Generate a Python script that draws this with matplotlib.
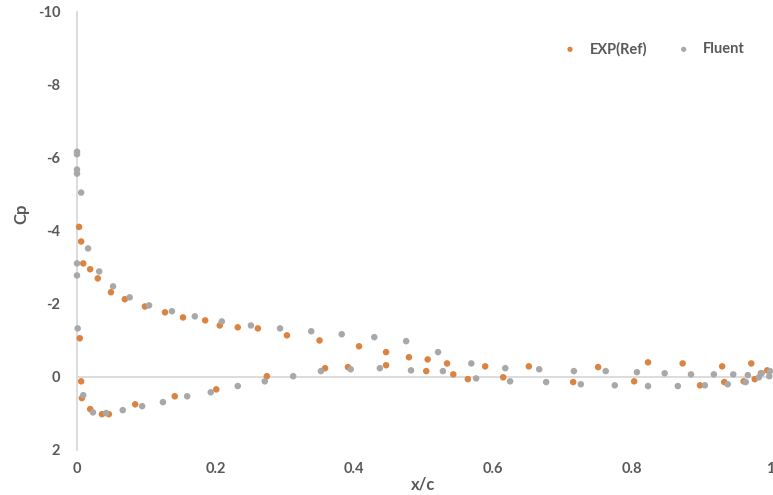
import matplotlib
matplotlib.use("Agg")
import matplotlib.pyplot as plt

plt.rcParams["font.family"] = ["Lato", "DejaVu Sans"]
plt.rcParams["axes.unicode_minus"] = False

# pressure coefficient along the chord, experiment
exp_x = [0.003, 0.006, 0.009, 0.019, 0.030, 0.049, 0.069, 0.098, 0.127, 0.153,
         0.185, 0.206, 0.232, 0.261, 0.303, 0.350, 0.407, 0.446, 0.479, 0.506,
         0.534, 0.589, 0.652, 0.752, 0.824, 0.874, 0.931, 0.973, 0.996,
         0.004, 0.006, 0.007, 0.019, 0.036, 0.046, 0.084, 0.141, 0.201, 0.274,
         0.358, 0.391, 0.446, 0.504, 0.543, 0.564, 0.615, 0.716, 0.804, 0.899,
         0.934, 0.962, 0.978, 0.987]
exp_cp = [-4.11, -3.71, -3.11, -2.95, -2.70, -2.32, -2.13, -1.93, -1.77, -1.63,
          -1.55, -1.41, -1.36, -1.33, -1.14, -1.00, -0.84, -0.68, -0.54, -0.48,
          -0.37, -0.29, -0.29, -0.27, -0.40, -0.37, -0.29, -0.37, -0.18,
          -1.06, 0.12, 0.58, 0.88, 1.02, 1.02, 0.75, 0.53, 0.34, -0.02,
          -0.24, -0.27, -0.32, -0.16, -0.07, 0.06, 0.01, 0.14, 0.12, 0.23,
          0.14, 0.12, 0.06, -0.10]

# CFD result
cfd_x = [0.0, 0.0, 0.0, 0.0, 0.006, 0.016, 0.0, 0.0, 0.032, 0.052,
         0.076, 0.104, 0.137, 0.170, 0.209, 0.251, 0.293, 0.338, 0.382, 0.429,
         0.475, 0.521, 0.569, 0.618, 0.667, 0.717, 0.763, 0.808, 0.848, 0.886,
         0.919, 0.947, 0.968, 0.988, 1.0,
         0.001, 0.009, 0.023, 0.042, 0.066, 0.094, 0.124, 0.159, 0.193, 0.232,
         0.271, 0.312, 0.352, 0.395, 0.437, 0.482, 0.528, 0.576, 0.625, 0.677,
         0.727, 0.776, 0.824, 0.867, 0.906, 0.939, 0.965, 0.984, 0.999]
cfd_cp = [-6.17, -6.10, -5.68, -5.57, -5.05, -3.52, -3.11, -2.78, -2.89, -2.48,
          -2.18, -1.96, -1.80, -1.66, -1.52, -1.41, -1.33, -1.25, -1.17, -1.09,
          -0.98, -0.68, -0.37, -0.24, -0.21, -0.16, -0.16, -0.13, -0.10, -0.07,
          -0.07, -0.07, -0.05, -0.10, -0.16,
          -1.33, 0.50, 0.97, 0.99, 0.91, 0.80, 0.69, 0.53, 0.42, 0.25,
          0.12, -0.02, -0.16, -0.21, -0.24, -0.18, -0.16, 0.04, 0.12, 0.14,
          0.20, 0.23, 0.25, 0.25, 0.23, 0.20, 0.14, 0.01, -0.02]

x_ticks = [0, 0.2, 0.4, 0.6, 0.8, 1]
x_labels = ["0", "0.2", "0.4", "0.6", "0.8", "1"]
y_ticks = [-10, -8, -6, -4, -2, 0, 2]

text_color = "#595959"
line_color = "#d9d9d9"

fig = plt.figure(figsize=(7.73, 4.95), dpi=100)
ax = fig.add_axes([0.0996, 0.091, 0.8965, 0.885])

ax.axhline(0, color=line_color, lw=1.3, zorder=1)
ax.scatter(exp_x, exp_cp, s=22, color="#DB8340", edgecolors="none",
           label="EXP(Ref)", clip_on=False, zorder=3)
ax.scatter(cfd_x, cfd_cp, s=22, color="#A8A8A8", edgecolors="none",
           label="Fluent", clip_on=False, zorder=3)

ax.set_xlim(0, 1)
ax.set_ylim(2, -10)
ax.set_xticks(x_ticks)
ax.set_xticklabels(x_labels)
ax.set_yticks(y_ticks)

for side in ["top", "right", "bottom"]:
    ax.spines[side].set_visible(False)
ax.spines["left"].set_color(line_color)
ax.spines["left"].set_linewidth(1.3)

ax.tick_params(axis="both", length=0, labelsize=10.5, labelcolor=text_color)
ax.tick_params(axis="x", pad=9)
ax.tick_params(axis="y", pad=12)
for lab in ax.get_xticklabels() + ax.get_yticklabels():
    lab.set_fontweight("bold")

ax.set_xlabel("x/c", fontsize=12, fontweight="bold", color=text_color)
ax.set_ylabel("Cp", fontsize=12, fontweight="bold", color=text_color)
ax.xaxis.set_label_coords(0.5, -0.06)
ax.yaxis.set_label_coords(-0.068, 0.54)

leg = ax.legend(loc="upper right", bbox_to_anchor=(0.983, 0.962), ncol=2,
                frameon=False, handletextpad=0.35,
                columnspacing=1.5, markerscale=0.8,
                prop={"weight": "bold", "size": 10.5})
for t in leg.get_texts():
    t.set_color(text_color)

fig.savefig("out.png", dpi=100, facecolor="white")
